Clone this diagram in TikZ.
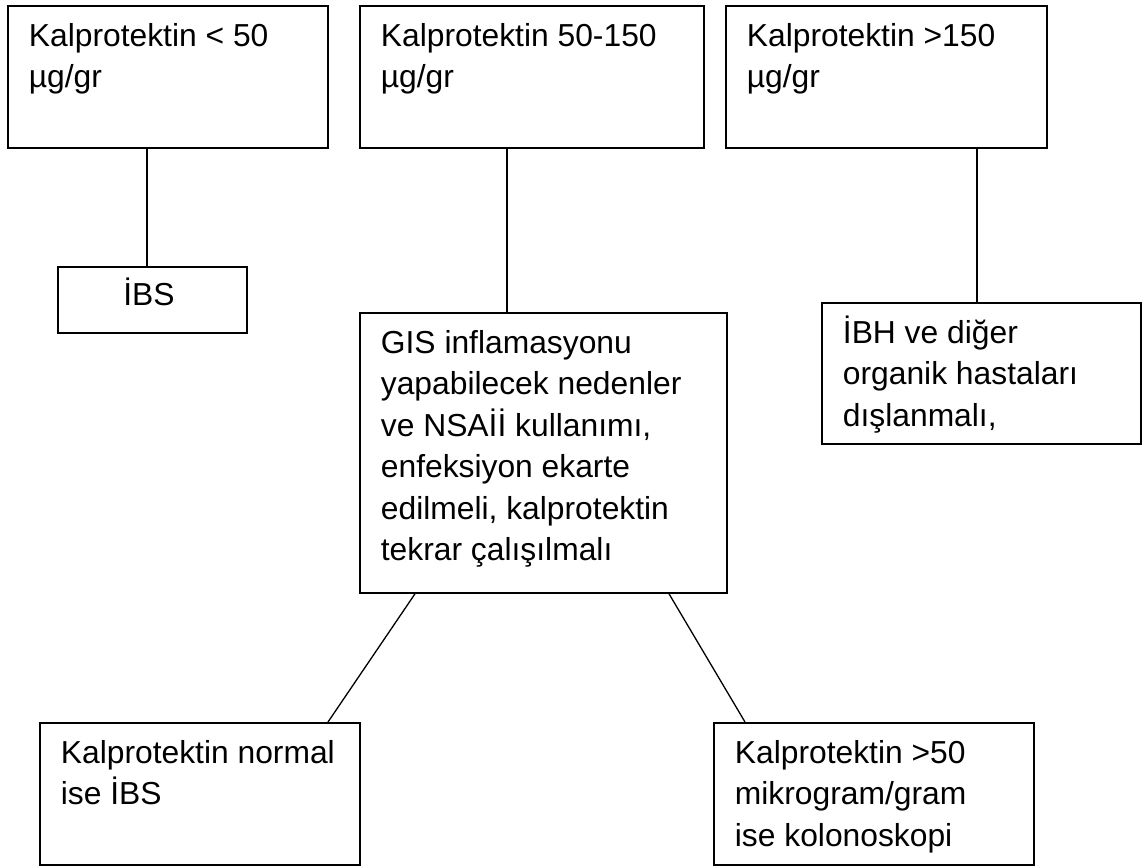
\documentclass[tikz,border=0pt]{standalone}
\usepackage{fontspec}
\setmainfont{Liberation Sans}
\newcommand{\boxtext}[3]{\parbox[t][#2][t]{#1}{\raggedright\leftskip=21pt\rule{0pt}{40.5pt}#3}}
\newcommand{\centertext}[3]{\parbox[t][#2][t]{#1}{\centering\rule{0pt}{39pt}#3}}
\tikzset{
  box/.style={draw, line width=1.8pt, inner sep=0pt, rectangle, anchor=north west,
    font=\fontsize{31.8}{41.5}\selectfont},
  conn/.style={line width=1.3pt}
}
\begin{document}
\begin{tikzpicture}[x=1pt,y=-1pt]
\useasboundingbox (0,0) rectangle (1142,866);
\node[box] (k1) at (7,5) {\boxtext{320pt}{142pt}{Kalprotektin < 50\\µg/gr}};
\node[box] (k2) at (359,5) {\boxtext{344pt}{142pt}{Kalprotektin 50-150\\µg/gr}};
\node[box] (k3) at (725,5) {\boxtext{321pt}{142pt}{Kalprotektin >150\\µg/gr}};
\node[box] (ibs) at (57,266) {\centertext{189pt}{66pt}{\hspace*{-7pt}İBS}};
\node[box] (gis) at (359,312) {\boxtext{367pt}{280pt}{GIS inflamasyonu\\yapabilecek nedenler\\ve NSAİİ kullanımı,\\enfeksiyon ekarte\\edilmeli, kalprotektin\\tekrar çalışılmalı}};
\node[box] (ibh) at (821,302) {\boxtext{319pt}{141pt}{İBH ve diğer\\organik hastaları\\dışlanmalı,}};
\node[box] (bl) at (39,722) {\boxtext{320pt}{142pt}{Kalprotektin normal\\ise İBS}};
\node[box] (br) at (713,722) {\boxtext{320pt}{142pt}{Kalprotektin >50\\mikrogram/gram\\ise kolonoskopi}};
\coordinate (c1) at (147,0);
\coordinate (c2) at (507,0);
\coordinate (c3) at (977,0);
\coordinate (d1) at (415,0);
\coordinate (d2) at (328,0);
\coordinate (d3) at (669,0);
\coordinate (d4) at (745,0);
\draw[conn] (k1.south -| c1) -- (ibs.north -| c1);
\draw[conn] (k2.south -| c2) -- (gis.north -| c2);
\draw[conn] (k3.south -| c3) -- (ibh.north -| c3);
\draw[conn] (gis.south -| d1) -- (bl.north -| d2);
\draw[conn] (gis.south -| d3) -- (br.north -| d4);
\end{tikzpicture}
\end{document}
